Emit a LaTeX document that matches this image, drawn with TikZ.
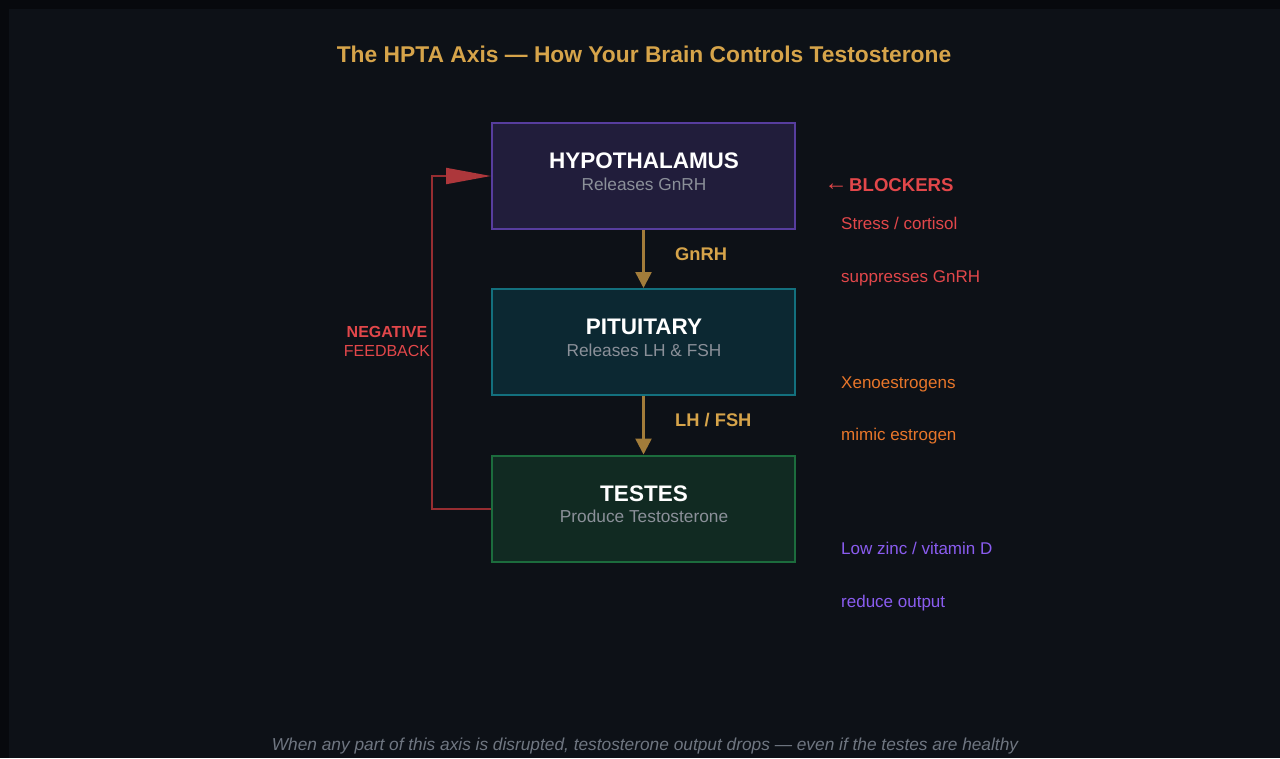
\documentclass[tikz,border=0pt]{standalone}
\usepackage{fontspec}
\setmainfont{Liberation Sans}
\usetikzlibrary{arrows.meta}
\definecolor{frame}{HTML}{07090D}
\definecolor{bg}{HTML}{0D1117}
\definecolor{gold}{HTML}{D6A44A}
\definecolor{goldline}{HTML}{A27C3A}
\definecolor{hypfill}{HTML}{211D3B}
\definecolor{hypdraw}{HTML}{573D9E}
\definecolor{pitfill}{HTML}{0C2832}
\definecolor{pitdraw}{HTML}{13707E}
\definecolor{tesfill}{HTML}{112A22}
\definecolor{tesdraw}{HTML}{1C6C3D}
\definecolor{subgray}{HTML}{8B9099}
\definecolor{redline}{HTML}{962D31}
\definecolor{redhead}{HTML}{AD373B}
\definecolor{redtxt}{HTML}{E2474A}
\definecolor{orangetxt}{HTML}{E8762A}
\definecolor{purpletxt}{HTML}{8A5CF0}
\definecolor{footgray}{HTML}{6F7681}
\tikzset{
  organ/.style={draw, line width=2pt, minimum width=303pt, minimum height=106pt, inner sep=0pt},
  organtitle/.style={anchor=base, inner sep=0pt, text=white, font=\fontsize{22.5}{26}\selectfont\bfseries},
  organsub/.style={anchor=base, inner sep=0pt, text=subgray, font=\fontsize{17.3}{20}\selectfont},
  hormone/.style={anchor=base west, inner sep=0pt, text=gold, font=\fontsize{18.3}{22}\selectfont\bfseries},
  sidetxt/.style={anchor=base west, inner sep=0pt, font=\fontsize{17}{20}\selectfont},
  goldarrow/.style={draw=goldline, line width=2.5pt, -{Triangle[length=16pt,width=16pt]}},
}
\begin{document}
\begin{tikzpicture}[x=1pt,y=-1pt]
\useasboundingbox (0,0) rectangle (1280,758);
\fill[frame] (0,0) rectangle (1280,758);
\fill[bg] (9,9) rectangle (1280,758);
% title
\node[anchor=base, inner sep=0pt, text=gold, font=\fontsize{22.8}{26}\selectfont\bfseries] (title) at (644,62) {The HPTA Axis — How Your Brain Controls Testosterone};
% boxes
\node[organ, draw=hypdraw, fill=hypfill] (hyp) at (643.5,176) {};
\node[organ, draw=pitdraw, fill=pitfill] (pit) at (643.5,342) {};
\node[organ, draw=tesdraw, fill=tesfill] (tes) at (643.5,508.5) {};
\node[organtitle] (hypt) at (644,168) {HYPOTHALAMUS};
\node[organsub] (hyps) at (644,190) {Releases GnRH};
\node[organtitle] (pitt) at (644,334) {PITUITARY};
\node[organsub] (pits) at (644,356) {Releases LH \& FSH};
\node[organtitle] (test) at (644,501) {TESTES};
\node[organsub] (tess) at (644,522) {Produce Testosterone};
% hormone arrows
\draw[goldarrow] (hyp.south) -- (pit.north);
\draw[goldarrow] (pit.south) -- (tes.north);
\node[hormone] (gnrh) at (675,260) {GnRH};
\node[hormone] (lhfsh) at (675,426) {LH / FSH};
% negative feedback
\coordinate (fbx) at (432,0);
\draw[redline, line width=2pt, -{Triangle[length=45pt,width=16pt,color=redhead]}] (tes.west) -- (tes.west -| fbx) -- (hyp.west -| fbx) -- (hyp.west);
\node[anchor=base, inner sep=0pt, text=redtxt, font=\fontsize{16}{19}\selectfont\bfseries] (neg) at (387,337) {NEGATIVE};
\node[anchor=base, inner sep=0pt, text=redtxt, font=\fontsize{16}{19}\selectfont] (fb) at (387,356) {FEEDBACK};
% blockers
\node[anchor=base west, inner sep=0pt, text=redtxt, font=\fontsize{23}{26}\selectfont] (blkarrow) at (824.5,190) {←};
\node[anchor=base west, inner sep=0pt, text=redtxt, font=\fontsize{18.6}{22}\selectfont\bfseries] (blk) at (849,191) {BLOCKERS};
\node[sidetxt, text=redtxt] (b1) at (841,229) {Stress / cortisol};
\node[sidetxt, text=redtxt] (b2) at (841,282) {suppresses GnRH};
\node[sidetxt, text=orangetxt] (b3) at (841,388) {Xenoestrogens};
\node[sidetxt, text=orangetxt] (b4) at (841,440) {mimic estrogen};
\node[sidetxt, text=purpletxt] (b5) at (841,554) {Low zinc / vitamin D};
\node[sidetxt, text=purpletxt] (b6) at (841,607) {reduce output};
% footer
\node[anchor=base, inner sep=0pt, text=footgray, font=\fontsize{17.3}{20}\selectfont\itshape] (foot) at (645,750) {When any part of this axis is disrupted, testosterone output drops — even if the testes are healthy};
\end{tikzpicture}
\end{document}
